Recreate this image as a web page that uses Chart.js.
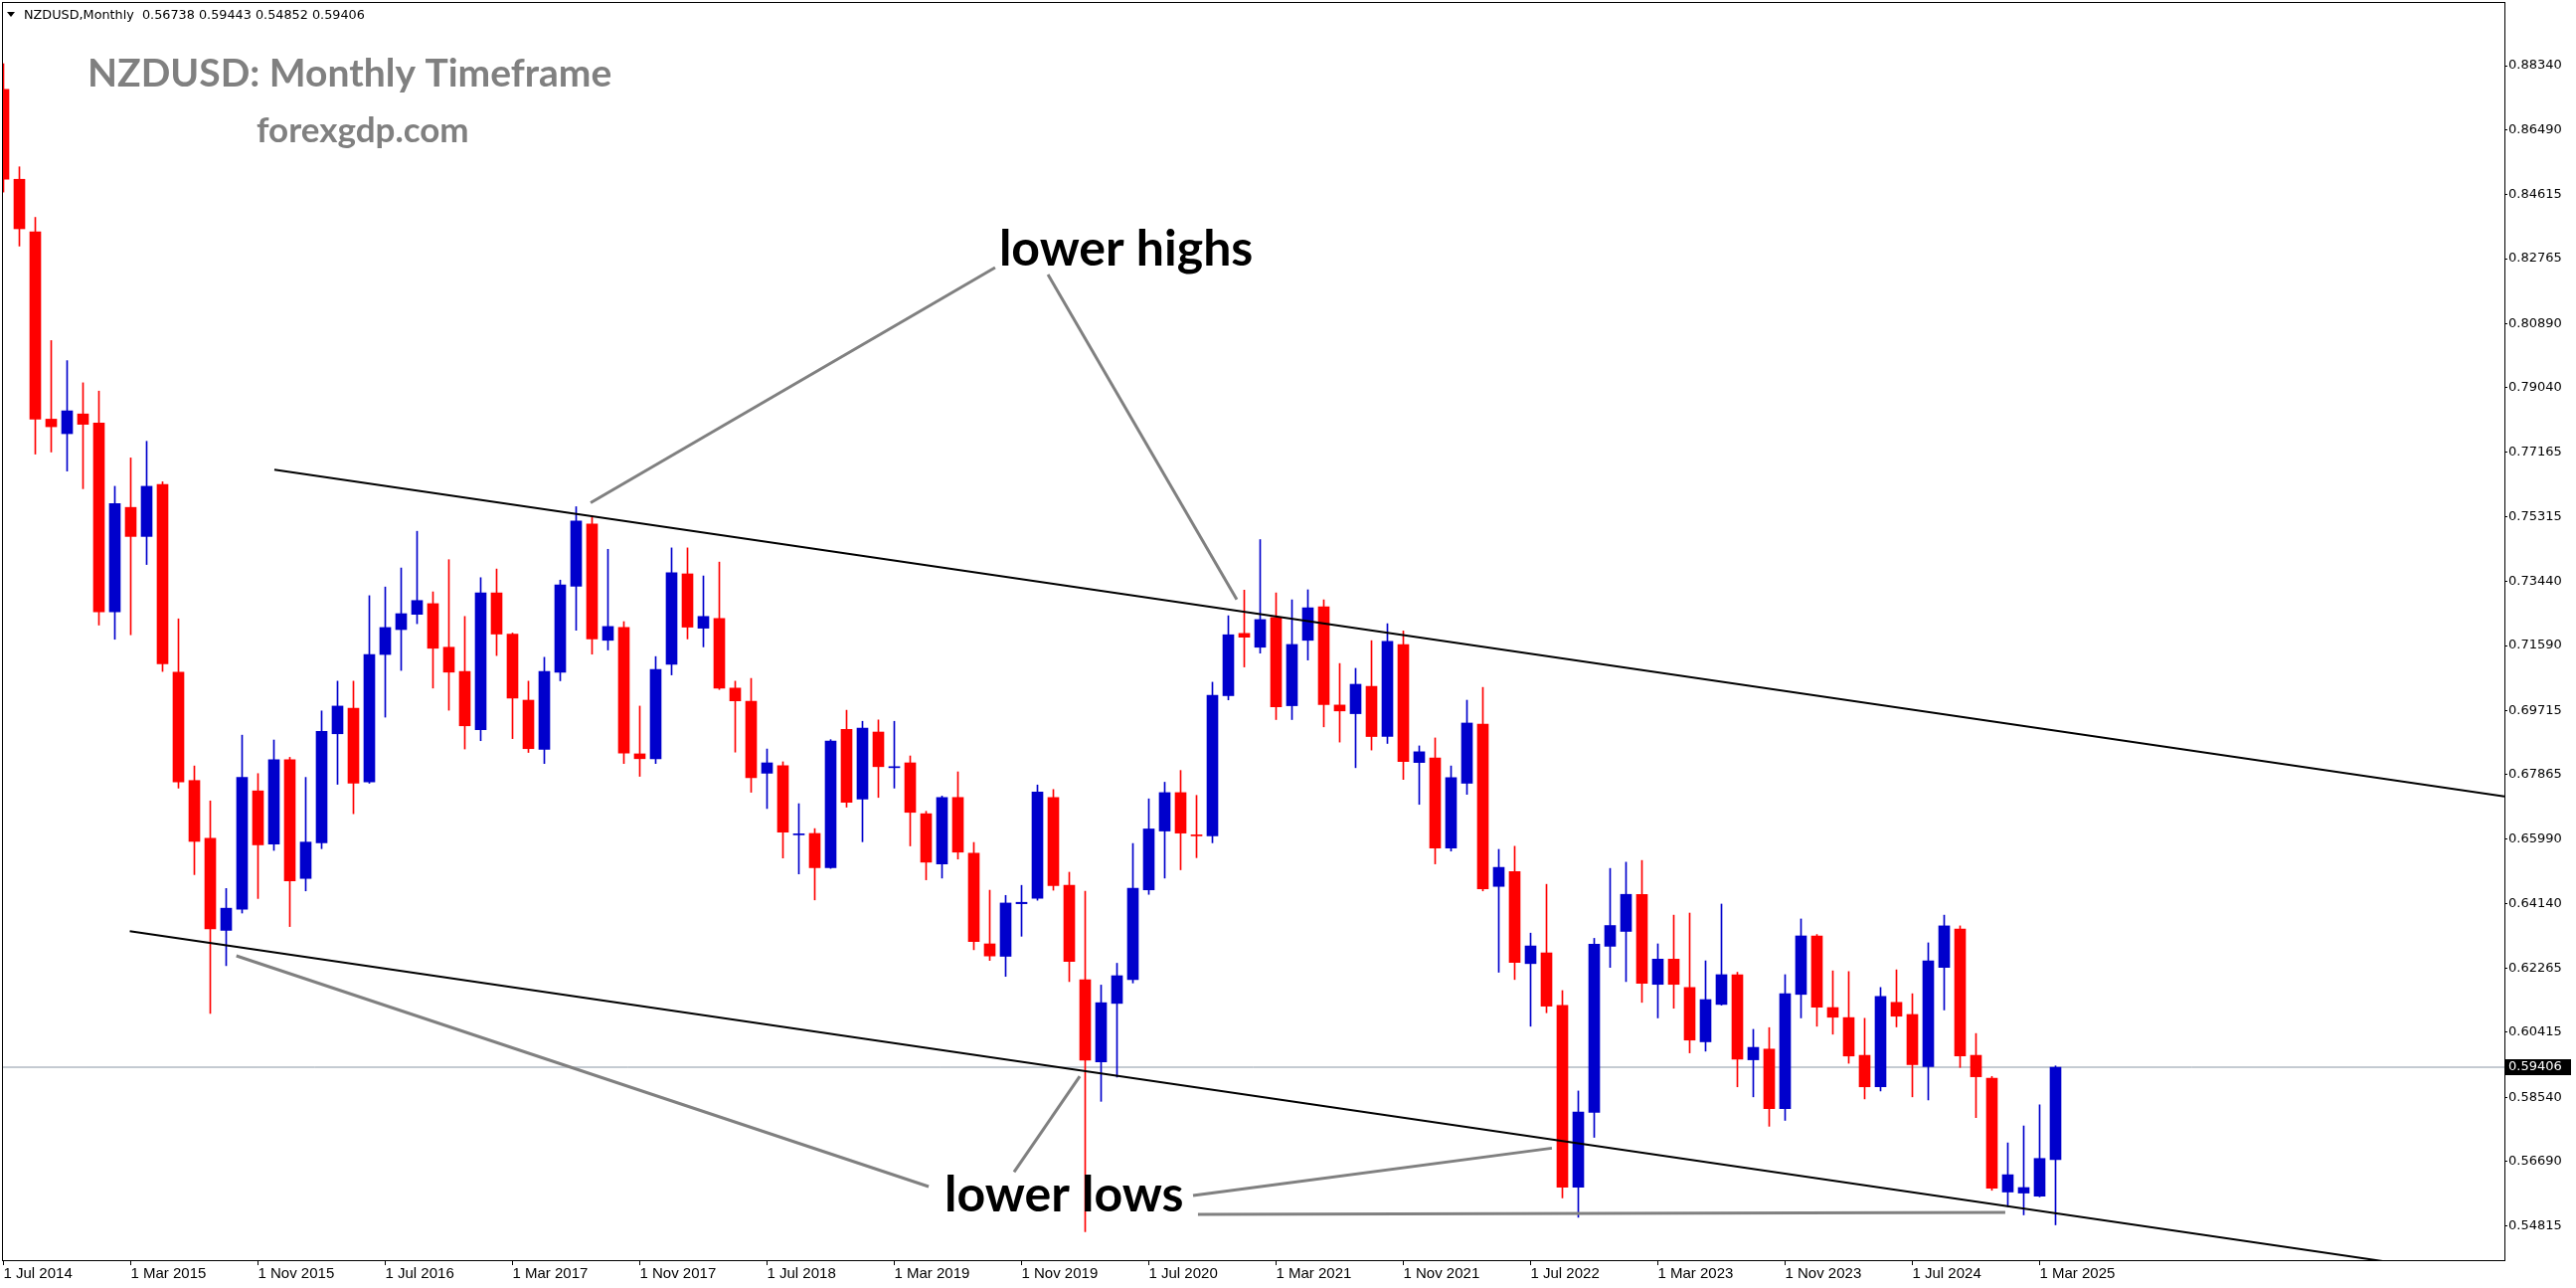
<!DOCTYPE html>
<html>
<head>
<meta charset="utf-8">
<script src="https://cdn.jsdelivr.net/npm/chart.js@4.4.1/dist/chart.umd.min.js"></script>
<style>
  html, body { margin: 0; padding: 0; background: #fff; overflow: hidden; }
  canvas { display: block; }
</style>
</head>
<body>
<canvas id="chart" width="2591" height="1295"></canvas>
<script>
'use strict';

// ============================================================
// データ（NZDUSD 月足 2014年7月〜2025年4月）
// ============================================================
const openP = [
  0.8766, 0.8506, 0.8354, 0.7813, 0.7771, 0.7828, 0.7802, 0.7256, 0.7558, 0.7474,
  0.7624, 0.7082, 0.6769, 0.6602, 0.6336, 0.6397, 0.6739, 0.6585, 0.6829, 0.6486,
  0.6589, 0.6904, 0.6978, 0.6765, 0.7133, 0.7205, 0.7249, 0.7280, 0.7154, 0.7084,
  0.6916, 0.7311, 0.7192, 0.7001, 0.6859, 0.7082, 0.7330, 0.7510, 0.7174, 0.7211,
  0.6846, 0.6832, 0.7105, 0.7366, 0.7209, 0.7237, 0.7036, 0.6998, 0.6790, 0.6812,
  0.6612, 0.6616, 0.6517, 0.6917, 0.6715, 0.6909, 0.6806, 0.6820, 0.6673, 0.6528,
  0.6720, 0.6559, 0.6297, 0.6261, 0.6413, 0.6429, 0.6720, 0.6466, 0.6193, 0.5956,
  0.6125, 0.6194, 0.6453, 0.6623, 0.6734, 0.6612, 0.6609, 0.7014, 0.7194, 0.7154,
  0.7240, 0.6985, 0.7174, 0.7271, 0.6987, 0.6962, 0.7041, 0.6896, 0.7162, 0.6821,
  0.6834, 0.6574, 0.6761, 0.6932, 0.6463, 0.6506, 0.6240, 0.6271, 0.6119, 0.5594,
  0.5810, 0.6290, 0.6333, 0.6440, 0.6180, 0.6253, 0.6171, 0.6014, 0.6122, 0.6208,
  0.5962, 0.5993, 0.5821, 0.6151, 0.6320, 0.6113, 0.6084, 0.5975, 0.5884, 0.6128,
  0.6093, 0.5942, 0.6229, 0.6340, 0.5975, 0.5909, 0.5580, 0.5577, 0.5568, 0.56738
];
const highP = [
  0.8840, 0.8542, 0.8396, 0.8040, 0.7982, 0.7918, 0.7894, 0.7619, 0.7701, 0.7749,
  0.7632, 0.7236, 0.6811, 0.6710, 0.6457, 0.6900, 0.6789, 0.6886, 0.6836, 0.6778,
  0.6970, 0.7056, 0.7056, 0.7303, 0.7328, 0.7383, 0.7489, 0.7314, 0.7407, 0.7243,
  0.7355, 0.7380, 0.7195, 0.7056, 0.7125, 0.7348, 0.7560, 0.7533, 0.7437, 0.7228,
  0.6984, 0.7127, 0.7441, 0.7441, 0.7360, 0.7400, 0.7056, 0.7064, 0.6860, 0.6823,
  0.6702, 0.6630, 0.6887, 0.6972, 0.6940, 0.6944, 0.6940, 0.6840, 0.6680, 0.6724,
  0.6794, 0.6590, 0.6452, 0.6437, 0.6466, 0.6756, 0.6743, 0.6504, 0.6449, 0.6178,
  0.6241, 0.6587, 0.6716, 0.6764, 0.6798, 0.6726, 0.7053, 0.7245, 0.7319, 0.7465,
  0.7311, 0.7291, 0.7320, 0.7291, 0.7107, 0.7093, 0.7173, 0.7222, 0.7201, 0.6869,
  0.6892, 0.6811, 0.7001, 0.7038, 0.6570, 0.6579, 0.6328, 0.6469, 0.6162, 0.5872,
  0.6313, 0.6515, 0.6533, 0.6538, 0.6297, 0.6380, 0.6386, 0.6248, 0.6412, 0.6215,
  0.6050, 0.6055, 0.6208, 0.6369, 0.6324, 0.6219, 0.6217, 0.6082, 0.6171, 0.6222,
  0.6153, 0.6300, 0.6380, 0.6349, 0.6038, 0.5914, 0.5722, 0.5771, 0.5832, 0.59443
];
const lowP = [
  0.8469, 0.8313, 0.7712, 0.7718, 0.7663, 0.7612, 0.7218, 0.7177, 0.7190, 0.7393,
  0.7084, 0.6747, 0.6497, 0.6096, 0.6234, 0.6386, 0.6428, 0.6567, 0.6347, 0.6450,
  0.6572, 0.6758, 0.6673, 0.6761, 0.6952, 0.7087, 0.7222, 0.7036, 0.6972, 0.6860,
  0.6884, 0.7130, 0.6890, 0.6850, 0.6818, 0.7057, 0.7203, 0.7134, 0.7146, 0.6818,
  0.6781, 0.6818, 0.7074, 0.7178, 0.7155, 0.7032, 0.6851, 0.6735, 0.6688, 0.6545,
  0.6499, 0.6424, 0.6515, 0.6692, 0.6592, 0.6720, 0.6747, 0.6580, 0.6482, 0.6487,
  0.6542, 0.6280, 0.6249, 0.6203, 0.6319, 0.6423, 0.6452, 0.6188, 0.5465, 0.5842,
  0.5912, 0.6184, 0.6440, 0.6487, 0.6511, 0.6546, 0.6589, 0.7002, 0.7097, 0.7137,
  0.6945, 0.6945, 0.7117, 0.6924, 0.6880, 0.6806, 0.6857, 0.6876, 0.6772, 0.6700,
  0.6528, 0.6565, 0.6729, 0.6450, 0.6215, 0.6194, 0.6059, 0.6098, 0.5563, 0.5507,
  0.5738, 0.6229, 0.6188, 0.6128, 0.6083, 0.6111, 0.5982, 0.5987, 0.6120, 0.5884,
  0.5855, 0.5770, 0.5787, 0.6083, 0.6059, 0.6036, 0.5952, 0.5849, 0.5872, 0.6057,
  0.5855, 0.5846, 0.6106, 0.5940, 0.5795, 0.5585, 0.5538, 0.5514, 0.5566, 0.54852
];
const closeP = [
  0.8506, 0.8363, 0.7813, 0.7791, 0.7837, 0.7798, 0.7256, 0.7569, 0.7474, 0.7619,
  0.7106, 0.6765, 0.6593, 0.6340, 0.6400, 0.6778, 0.6583, 0.6829, 0.6479, 0.6591,
  0.6911, 0.6984, 0.6761, 0.7133, 0.7211, 0.7251, 0.7289, 0.7151, 0.7082, 0.6927,
  0.7311, 0.7192, 0.7007, 0.6861, 0.7084, 0.7334, 0.7519, 0.7178, 0.7214, 0.6848,
  0.6832, 0.7090, 0.7369, 0.7212, 0.7243, 0.7036, 0.6999, 0.6777, 0.6820, 0.6620,
  0.6615, 0.6517, 0.6883, 0.6706, 0.6920, 0.6809, 0.6809, 0.6677, 0.6533, 0.6720,
  0.6562, 0.6304, 0.6262, 0.6415, 0.6417, 0.6736, 0.6465, 0.6246, 0.5961, 0.6127,
  0.6205, 0.6458, 0.6629, 0.6734, 0.6617, 0.6609, 0.7015, 0.7190, 0.7183, 0.7234,
  0.6982, 0.7162, 0.7268, 0.6988, 0.6970, 0.7047, 0.6896, 0.7171, 0.6824, 0.6852,
  0.6574, 0.6777, 0.6935, 0.6456, 0.6518, 0.6243, 0.6291, 0.6117, 0.5594, 0.5811,
  0.6296, 0.6350, 0.6440, 0.6183, 0.6253, 0.6180, 0.6019, 0.6136, 0.6208, 0.5964,
  0.5998, 0.5821, 0.6153, 0.6320, 0.6114, 0.6085, 0.5973, 0.5884, 0.6145, 0.6088,
  0.5948, 0.6248, 0.6349, 0.5973, 0.5913, 0.5591, 0.5630, 0.5593, 0.5677, 0.59406
];

// 価格軸の目盛り（MT4の表示値）
const yTickValues = [
  0.88340, 0.86490, 0.84615, 0.82765, 0.80890, 0.79040, 0.77165, 0.75315, 0.73440, 0.71590,
  0.69715, 0.67865, 0.65990, 0.64140, 0.62265, 0.60415, 0.58540, 0.56690, 0.54815
];

// 時間軸の目盛り（足の番号と表示）
const xTickIndex = [0, 8, 16, 24, 32, 40, 48, 56, 64, 72, 80, 88, 96, 104, 112, 120, 128];
const xTickLabels = [
  '1 Jul 2014', '1 Mar 2015', '1 Nov 2015', '1 Jul 2016', '1 Mar 2017', '1 Nov 2017',
  '1 Jul 2018', '1 Mar 2019', '1 Nov 2019', '1 Jul 2020', '1 Mar 2021', '1 Nov 2021',
  '1 Jul 2022', '1 Mar 2023', '1 Nov 2023', '1 Jul 2024', '1 Mar 2025'
];

// チャネルライン（足番号, 価格）
const upperChannel = [{ x: 17.03, y: 0.7667 }, { x: 157.22, y: 0.6723 }];
const lowerChannel = [{ x: 7.94, y: 0.63335 }, { x: 157.22, y: 0.53288 }];

// 注釈の引き出し線
const pointerLines = [
  [{ x: 62.34, y: 0.82510 }, { x: 36.91, y: 0.75714 }],
  [{ x: 65.66, y: 0.82309 }, { x: 77.53, y: 0.72921 }],
  [{ x: 14.64, y: 0.62625 }, { x: 58.16, y: 0.55958 }],
  [{ x: 63.53, y: 0.56378 }, { x: 67.66, y: 0.59142 }],
  [{ x: 74.78, y: 0.55699 }, { x: 97.34, y: 0.57068 }],
  [{ x: 75.09, y: 0.55154 }, { x: 125.84, y: 0.55212 }]
];

const notes = [
  { text: 'lower highs', x: 62.59, y: 0.82567 },
  { text: 'lower lows', x: 59.16, y: 0.55240 }
];

const lastPrice = 0.59406;

// ============================================================
// 定数
// ============================================================
const BULL = '#0000cc';
const BEAR = '#ff0000';
const X_MIN = -0.09375;
const X_MAX = 157.21875;

function candleColor(ctx) {
  const i = ctx.dataIndex;
  return closeP[i] >= openP[i] ? BULL : BEAR;
}

const bodies = openP.map((o, i) => ({ x: i, y: [o, closeP[i]] }));
const wicks = lowP.map((l, i) => ({ x: i, y: [l, highP[i]] }));

function lineSet(data, color, width, order) {
  return {
    type: 'line',
    data,
    borderColor: color,
    borderWidth: width,
    pointRadius: 0,
    tension: 0,
    order
  };
}

// ============================================================
// 描画プラグイン（枠・タイトル・注釈・現在値ラベル）
// ============================================================
const decor = {
  id: 'decor',
  beforeDraw(chart) {
    const ctx = chart.ctx;
    ctx.save();
    ctx.fillStyle = '#fff';
    ctx.fillRect(0, 0, chart.width, chart.height);
    ctx.restore();
  },
  afterDraw(chart) {
    const { ctx, chartArea: a, scales } = chart;
    ctx.save();

    // 枠
    ctx.strokeStyle = '#000';
    ctx.lineWidth = 1;
    ctx.strokeRect(a.left + 0.5, a.top + 0.5, a.right - a.left, a.bottom - a.top);

    // ヘッダー
    ctx.fillStyle = '#000';
    ctx.beginPath();
    ctx.moveTo(7, 12);
    ctx.lineTo(15, 12);
    ctx.lineTo(11, 17);
    ctx.closePath();
    ctx.fill();
    ctx.font = '12.8px "DejaVu Sans"';
    ctx.textBaseline = 'alphabetic';
    ctx.textAlign = 'left';
    ctx.fillText('NZDUSD,Monthly  0.56738 0.59443 0.54852 0.59406', 24, 19);

    // タイトル
    ctx.fillStyle = '#808080';
    ctx.font = 'bold 39px Lato';
    ctx.fillText('NZDUSD: Monthly Timeframe', 88, 87);
    ctx.font = 'bold 35px Lato';
    ctx.fillText('forexgdp.com', 258, 143);

    // 注釈テキスト
    ctx.fillStyle = '#000';
    ctx.font = 'bold 50px Lato';
    notes.forEach(n => {
      ctx.fillText(n.text, scales.x.getPixelForValue(n.x), scales.y.getPixelForValue(n.y));
    });

    // 現在値ラベル
    const py = Math.round(scales.y.getPixelForValue(lastPrice));
    ctx.fillStyle = '#000';
    ctx.fillRect(a.right + 1, py - 8, 66, 16);
    ctx.fillStyle = '#fff';
    ctx.font = '13px "DejaVu Sans"';
    ctx.textBaseline = 'middle';
    ctx.fillText(lastPrice.toFixed(5), a.right + 4, py);

    ctx.restore();
  }
};

// ============================================================
// チャート
// ============================================================
const datasets = [
  lineSet(upperChannel, '#000', 2, 0),
  lineSet(lowerChannel, '#000', 2, 0)
];
pointerLines.forEach(p => datasets.push(lineSet(p, '#808080', 3, 0)));
datasets.push({
  label: 'body',
  data: bodies,
  backgroundColor: candleColor,
  grouped: false,
  barThickness: 11,
  borderWidth: 0,
  borderSkipped: false,
  order: 1
});
datasets.push({
  label: 'wick',
  data: wicks,
  backgroundColor: candleColor,
  grouped: false,
  barThickness: 1,
  borderWidth: 0,
  borderSkipped: false,
  order: 2
});
datasets.push(lineSet([{ x: X_MIN, y: lastPrice }, { x: X_MAX, y: lastPrice }], '#8a97a5', 1, 3));

new Chart(document.getElementById('chart'), {
  type: 'bar',
  data: { datasets },
  plugins: [decor],
  options: {
    responsive: false,
    animation: false,
    devicePixelRatio: 1,
    layout: { padding: { left: 2, top: 2, right: 0, bottom: 0 } },
    plugins: {
      legend: { display: false },
      tooltip: { enabled: false }
    },
    scales: {
      x: {
        type: 'linear',
        min: X_MIN,
        max: X_MAX,
        offset: false,
        afterBuildTicks(s) { s.ticks = xTickIndex.map(v => ({ value: v })); },
        afterFit(s) { s.height = 28; s.paddingLeft = 0; s.paddingRight = 0; },
        grid: { offset: false, drawOnChartArea: false, drawTicks: true, tickLength: 5, color: '#000' },
        border: { display: false },
        ticks: {
          align: 'start',
          autoSkip: false,
          maxRotation: 0,
          padding: 0,
          color: '#000',
          font: { family: '"Liberation Sans Narrow", "Liberation Sans"', size: 15 },
          callback(v) {
            const k = xTickIndex.indexOf(v);
            return k >= 0 ? xTickLabels[k] : '';
          }
        }
      },
      y: {
        position: 'right',
        min: 0.53832,
        max: 0.90182,
        afterBuildTicks(s) { s.ticks = yTickValues.map(v => ({ value: v })); },
        afterFit(s) { s.width = 72; s.paddingTop = 0; s.paddingBottom = 0; },
        grid: { drawOnChartArea: false, drawTicks: true, tickLength: 3, color: '#000' },
        border: { display: false },
        ticks: {
          autoSkip: false,
          padding: 1,
          color: '#000',
          font: { family: '"DejaVu Sans"', size: 13 },
          callback(v) { return v.toFixed(5); }
        }
      }
    }
  }
});
</script>
</body>
</html>
